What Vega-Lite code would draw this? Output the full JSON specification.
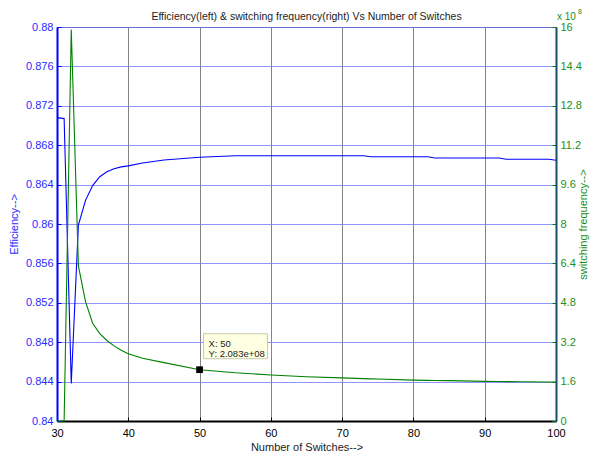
{
  "$schema": "https://vega.github.io/schema/vega-lite/v6.json",
  "width": 499,
  "height": 394,
  "autosize": {"type": "none"},
  "padding": {"left": 57, "top": 27, "right": 38, "bottom": 32},
  "background": "white",
  "title": {"text": "Efficiency(left) & switching frequency(right) Vs Number of Switches", "fontSize": 10.5, "font": "Liberation Sans", "fontWeight": "normal", "color": "#222222", "offset": 0, "baseline": "alphabetic", "dy": 22, "anchor": "middle", "frame": "group"},
  "config": {"view": {"stroke": "#000000", "strokeWidth": 1}, "font": "Liberation Sans", "axis": {"labelOverlap": false}},
  "datasets": {
    "main": [
      {"n": 30, "eff": 0.8708, "freq": 0},
      {"n": 31, "eff": 0.8707, "freq": 0},
      {"n": 32, "eff": 0.8438, "freq": 1590000000},
      {"n": 33, "eff": 0.8599, "freq": 630000000},
      {"n": 34, "eff": 0.8624, "freq": 485000000},
      {"n": 35, "eff": 0.8639, "freq": 397000000},
      {"n": 36, "eff": 0.8648, "freq": 355000000},
      {"n": 37, "eff": 0.8653, "freq": 327000000},
      {"n": 38, "eff": 0.8656, "freq": 305000000},
      {"n": 39, "eff": 0.8658, "freq": 287000000},
      {"n": 40, "eff": 0.8659, "freq": 273000000},
      {"n": 42, "eff": 0.8662, "freq": 255000000},
      {"n": 45, "eff": 0.8665, "freq": 237000000},
      {"n": 50, "eff": 0.86677, "freq": 208300000},
      {"n": 55, "eff": 0.86693, "freq": 196000000},
      {"n": 60, "eff": 0.86693, "freq": 187000000},
      {"n": 65, "eff": 0.86693, "freq": 180000000},
      {"n": 70, "eff": 0.86693, "freq": 175000000},
      {"n": 73, "eff": 0.86693, "freq": 172000000},
      {"n": 74, "eff": 0.86683, "freq": 171000000},
      {"n": 75, "eff": 0.86683, "freq": 170500000},
      {"n": 80, "eff": 0.86683, "freq": 166000000},
      {"n": 82, "eff": 0.86683, "freq": 165000000},
      {"n": 83, "eff": 0.8667, "freq": 164500000},
      {"n": 85, "eff": 0.8667, "freq": 164000000},
      {"n": 90, "eff": 0.8667, "freq": 161000000},
      {"n": 92, "eff": 0.8667, "freq": 160500000},
      {"n": 93, "eff": 0.86657, "freq": 160000000},
      {"n": 95, "eff": 0.86657, "freq": 159500000},
      {"n": 99, "eff": 0.86657, "freq": 158500000},
      {"n": 100, "eff": 0.86647, "freq": 158000000}
    ],
    "tip": [{"n": 50, "freq": 208300000, "l1": "X: 50", "l2": "Y: 2.083e+08"}],
    "corner": [{"n": 100, "freq": 1600000000, "a": "x 10", "b": "8"}]
  },
  "layer": [
    {
      "data": {"name": "main"},
      "mark": {"type": "line", "color": "#0000ff", "strokeWidth": 1.1},
      "encoding": {
        "x": {
          "field": "n", "type": "quantitative",
          "scale": {"domain": [30, 100], "nice": false, "zero": false},
          "axis": {
            "values": [30, 35, 40, 45, 50, 55, 60, 65, 70, 75, 80, 85, 90, 95, 100],
            "labelFlush": false, "labelOverlap": false,
            "grid": true, "gridColor": "#6e6e6e", "gridWidth": 1, "gridOpacity": 0.85,
            "domainColor": "#000000", "domainWidth": 2,
            "tickColor": "#000000", "tickSize": -4, "labelPadding": 10,
            "labelColor": "#000000", "labelFontSize": 11, "labelFont": "Liberation Sans",
            "titleFontSize": 11, "titleColor": "#222222", "titleFontWeight": "normal", "titleFont": "Liberation Sans", "titlePadding": 3
          },
          "title": "Number of Switches-->"
        },
        "y": {
          "field": "eff", "type": "quantitative",
          "scale": {"domain": [0.84, 0.88], "nice": false, "zero": false},
          "axis": {
            "orient": "left",
            "values": [0.84, 0.844, 0.848, 0.852, 0.856, 0.86, 0.864, 0.868, 0.872, 0.876, 0.88],
            "format": "~g", "labelFlush": false, "labelOverlap": false,
            "grid": true, "gridColor": "#7f7fff", "gridWidth": 1, "gridOpacity": 0.85,
            "domainColor": "#0000ff", "domainWidth": 2,
            "tickColor": "#0000ff", "tickSize": -4, "labelPadding": 8,
            "labelColor": "#2a2aff", "labelFontSize": 11, "labelFont": "Liberation Sans",
            "titleFontSize": 11, "titleColor": "#2a2aff", "titleFontWeight": "normal", "titleFont": "Liberation Sans", "titlePadding": 6
          },
          "title": "Efficiency-->"
        }
      }
    },
    {
      "data": {"name": "main"},
      "mark": {"type": "line", "color": "#008000", "strokeWidth": 1.1},
      "encoding": {
        "x": {"field": "n", "type": "quantitative"},
        "y": {
          "field": "freq", "type": "quantitative",
          "scale": {"domain": [0, 1600000000], "nice": false, "zero": true},
          "axis": {
            "orient": "right",
            "values": [0, 160000000, 320000000, 480000000, 640000000, 800000000, 960000000, 1120000000, 1280000000, 1440000000, 1600000000],
            "labelExpr": "format(datum.value / 100000000, '.3~g')",
            "labelFlush": false, "labelOverlap": false,
            "grid": false,
            "domainColor": "#17506e", "domainWidth": 2,
            "tickColor": "#008000", "tickSize": -4, "labelPadding": 8,
            "labelColor": "#1a8f1a", "labelFontSize": 11, "labelFont": "Liberation Sans",
            "titleFontSize": 11, "titleColor": "#1a8f1a", "titleFontWeight": "normal", "titleFont": "Liberation Sans", "titlePadding": 7, "titleAngle": 270
          },
          "title": "switching frequency-->"
        }
      }
    },
    {
      "data": {"name": "tip"},
      "mark": {"type": "rect", "fill": "#ffffe1", "stroke": "#c8c8b0", "strokeWidth": 1, "xOffset": 4, "x2Offset": 68, "yOffset": -36, "y2Offset": -11},
      "encoding": {
        "x": {"field": "n", "type": "quantitative"},
        "x2": {"field": "n"},
        "y": {"field": "freq", "type": "quantitative", "axis": null, "scale": {"domain": [0, 1600000000], "nice": false}},
        "y2": {"field": "freq"}
      }
    },
    {
      "data": {"name": "tip"},
      "mark": {"type": "point", "shape": "square", "filled": true, "color": "#000000", "size": 45, "opacity": 1},
      "encoding": {
        "x": {"field": "n", "type": "quantitative"},
        "y": {"field": "freq", "type": "quantitative", "axis": null, "scale": {"domain": [0, 1600000000], "nice": false}}
      }
    },
    {
      "data": {"name": "tip"},
      "mark": {"type": "text", "align": "left", "baseline": "alphabetic", "dx": 9, "dy": -23, "fontSize": 9.5, "font": "Liberation Sans", "color": "#222222"},
      "encoding": {
        "x": {"field": "n", "type": "quantitative"},
        "y": {"field": "freq", "type": "quantitative", "axis": null, "scale": {"domain": [0, 1600000000], "nice": false}},
        "text": {"field": "l1"}
      }
    },
    {
      "data": {"name": "tip"},
      "mark": {"type": "text", "align": "left", "baseline": "alphabetic", "dx": 9, "dy": -13, "fontSize": 9.5, "font": "Liberation Sans", "color": "#222222"},
      "encoding": {
        "x": {"field": "n", "type": "quantitative"},
        "y": {"field": "freq", "type": "quantitative", "axis": null, "scale": {"domain": [0, 1600000000], "nice": false}},
        "text": {"field": "l2"}
      }
    },
    {
      "data": {"name": "corner"},
      "mark": {"type": "text", "align": "left", "baseline": "alphabetic", "dx": 1, "dy": -7, "fontSize": 10, "font": "Liberation Sans", "color": "#1a8f1a", "clip": false},
      "encoding": {
        "x": {"field": "n", "type": "quantitative"},
        "y": {"field": "freq", "type": "quantitative", "axis": null, "scale": {"domain": [0, 1600000000], "nice": false}},
        "text": {"field": "a"}
      }
    },
    {
      "data": {"name": "corner"},
      "mark": {"type": "text", "align": "left", "baseline": "alphabetic", "dx": 22, "dy": -13, "fontSize": 7, "font": "Liberation Sans", "color": "#1a8f1a", "clip": false},
      "encoding": {
        "x": {"field": "n", "type": "quantitative"},
        "y": {"field": "freq", "type": "quantitative", "axis": null, "scale": {"domain": [0, 1600000000], "nice": false}},
        "text": {"field": "b"}
      }
    }
  ],
  "resolve": {"scale": {"y": "independent"}}
}
